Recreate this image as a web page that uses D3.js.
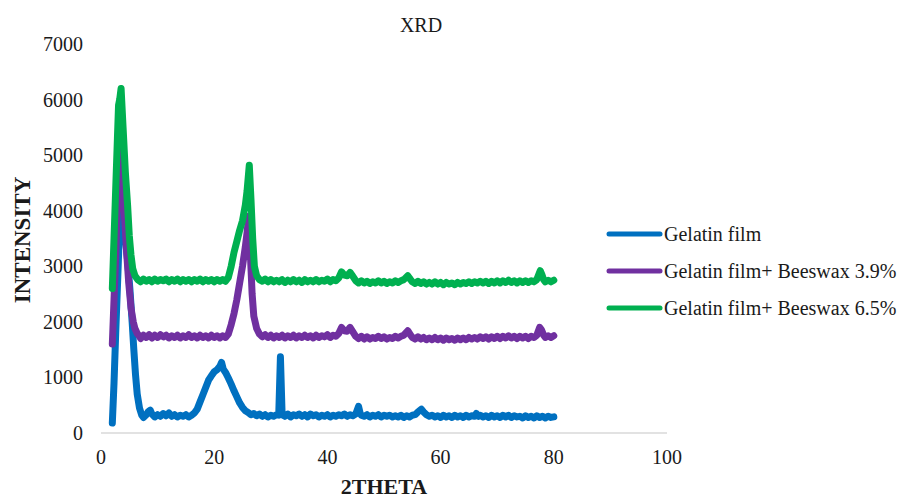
<!DOCTYPE html>
<html>
<head>
<meta charset="utf-8">
<script type="text/javascript" src="https://cdn.jsdelivr.net/npm/d3@7/dist/d3.min.js"></script>
<style>
  body { margin: 0; background: #ffffff; }
  svg { display: block; }
  text { font-family: "Liberation Serif", "Times New Roman", Times, serif; fill: #1a1a1a; }
</style>
</head>
<body>
<div id="chart"></div>
<script type="text/javascript">
// [2theta, intensity]
var gelatinFilm = [
  [2.0,180],[2.3,900],[2.6,1800],[3.0,2900],[3.3,3800],[3.6,4300],[3.9,4000],[4.3,3500],[4.7,3100],[5.1,2600],
  [5.5,2000],[5.8,1500],[6.1,1050],[6.4,700],[6.8,450],[7.2,320],[7.5,280],[8.0,330],[8.4,390],[8.7,410],
  [9.0,340],[9.5,290],[10.0,330],[10.5,300],[11.0,350],[11.5,310],[12.0,360],[12.5,300],[13.0,330],[13.5,290],
  [14.0,320],[14.5,300],[15.0,330],[15.5,290],[16.0,320],[16.5,360],[17.0,430],[17.5,560],[18.0,690],[18.5,820],
  [19.0,950],[19.5,1030],[20.0,1100],[20.5,1140],[21.0,1200],[21.3,1270],[21.6,1150],[22.0,1090],[22.5,990],[23.0,880],
  [23.5,760],[24.0,650],[24.5,540],[25.0,460],[25.5,400],[26.0,370],[26.5,330],[27.0,350],[27.5,310],[28.0,340],
  [28.5,300],[29.0,330],[29.5,290],[30.0,320],[30.5,300],[31.0,330],[31.4,320],[31.7,1370],[32.0,330],[32.5,300],
  [33.0,340],[33.5,290],[34.0,330],[34.5,310],[35.0,340],[35.5,300],[36.0,330],[36.5,290],[37.0,340],[37.5,310],
  [38.0,330],[38.5,290],[39.0,320],[39.5,300],[40.0,330],[40.5,290],[41.0,320],[41.5,300],[42.0,330],[42.5,310],
  [43.0,340],[43.5,300],[44.0,330],[44.5,310],[45.0,340],[45.5,480],[45.8,350],[46.0,320],[46.5,300],[47.0,330],
  [47.5,290],[48.0,320],[48.5,300],[49.0,330],[49.5,290],[50.0,320],[50.5,300],[51.0,320],[51.5,290],[52.0,310],
  [52.5,290],[53.0,320],[53.5,280],[54.0,310],[54.5,290],[55.0,320],[55.5,330],[56.0,380],[56.6,430],[57.0,380],
  [57.5,330],[58.0,300],[58.5,320],[59.0,290],[59.5,310],[60.0,280],[60.5,320],[61.0,290],[61.5,310],[62.0,280],
  [62.5,320],[63.0,290],[63.5,310],[64.0,280],[64.5,320],[65.0,290],[65.5,310],[66.0,300],[66.3,350],[66.7,300],
  [67.0,320],[67.5,290],[68.0,310],[68.5,280],[69.0,320],[69.5,290],[70.0,310],[70.5,280],[71.0,320],[71.5,290],
  [72.0,320],[72.5,280],[73.0,310],[73.5,290],[74.0,300],[74.5,270],[75.0,310],[75.5,280],[76.0,300],[76.5,270],
  [77.0,310],[77.5,280],[78.0,300],[78.5,270],[79.0,300],[79.5,280],[80.0,290]
];

var beeswax39 = [
  [2.0,1600],[2.3,2400],[2.6,3200],[2.9,4100],[3.2,4800],[3.5,5300],[3.8,4700],[4.1,4000],[4.5,3300],[4.9,2700],
  [5.3,2250],[5.7,2000],[6.0,1880],[6.4,1790],[6.8,1740],[7.0,1700],[7.5,1760],[8.0,1720],[8.5,1770],[9.0,1710],
  [9.5,1760],[10.0,1720],[10.5,1770],[11.0,1730],[11.5,1760],[12.0,1710],[12.5,1750],[13.0,1720],[13.5,1760],[14.0,1710],
  [14.5,1750],[15.0,1720],[15.5,1770],[16.0,1720],[16.5,1750],[17.0,1710],[17.5,1760],[18.0,1720],[18.5,1750],[19.0,1710],
  [19.5,1760],[20.0,1720],[20.5,1750],[21.0,1710],[21.5,1750],[22.0,1720],[22.5,1780],[23.0,1950],[23.5,2150],[24.0,2400],
  [24.5,2700],[25.0,3000],[25.5,3350],[25.8,3600],[26.1,3900],[26.4,3200],[26.7,2500],[27.0,2100],[27.5,1880],[28.0,1780],
  [28.5,1730],[29.0,1770],[29.5,1720],[30.0,1760],[30.5,1710],[31.0,1750],[31.5,1720],[32.0,1760],[32.5,1710],[33.0,1750],
  [33.5,1720],[34.0,1760],[34.5,1710],[35.0,1750],[35.5,1720],[36.0,1760],[36.5,1720],[37.0,1750],[37.5,1710],[38.0,1760],
  [38.5,1720],[39.0,1750],[39.5,1730],[40.0,1770],[40.5,1720],[41.0,1760],[41.5,1740],[42.0,1790],[42.5,1900],[43.0,1840],
  [43.5,1830],[44.0,1900],[44.5,1820],[45.0,1740],[45.5,1700],[46.0,1740],[46.5,1690],[47.0,1730],[47.5,1690],[48.0,1720],
  [48.5,1700],[49.0,1740],[49.5,1700],[50.0,1730],[50.5,1690],[51.0,1720],[51.5,1700],[52.0,1740],[52.5,1710],[53.0,1740],
  [53.5,1760],[54.2,1840],[54.7,1760],[55.0,1720],[55.5,1690],[56.0,1730],[56.5,1690],[57.0,1720],[57.5,1680],[58.0,1710],
  [58.5,1680],[59.0,1720],[59.5,1680],[60.0,1710],[60.5,1670],[61.0,1710],[61.5,1680],[62.0,1700],[62.5,1670],[63.0,1710],
  [63.5,1680],[64.0,1710],[64.5,1680],[65.0,1720],[65.5,1690],[66.0,1720],[66.5,1690],[67.0,1730],[67.5,1700],[68.0,1730],
  [68.5,1690],[69.0,1730],[69.5,1700],[70.0,1740],[70.5,1700],[71.0,1740],[71.5,1710],[72.0,1750],[72.5,1710],[73.0,1740],
  [73.5,1700],[74.0,1740],[74.5,1710],[75.0,1740],[75.5,1700],[76.0,1740],[76.5,1720],[77.0,1760],[77.5,1900],[77.8,1860],
  [78.2,1760],[78.5,1720],[79.0,1750],[79.5,1720],[80.0,1750]
];

var beeswax65 = [
  [2.0,2600],[2.3,3500],[2.6,4400],[2.9,5300],[3.1,5900],[3.3,6000],[3.55,6200],[3.9,5500],[4.3,4700],[4.7,4100],
  [5.0,3550],[5.3,3200],[5.6,2960],[6.0,2830],[6.5,2760],[7.0,2720],[7.5,2770],[8.0,2730],[8.5,2760],[9.0,2720],
  [9.5,2770],[10.0,2730],[10.5,2760],[11.0,2740],[11.5,2770],[12.0,2720],[12.5,2760],[13.0,2730],[13.5,2770],[14.0,2720],
  [14.5,2760],[15.0,2730],[15.5,2760],[16.0,2720],[16.5,2760],[17.0,2730],[17.5,2770],[18.0,2720],[18.5,2760],[19.0,2730],
  [19.5,2760],[20.0,2720],[20.5,2760],[21.0,2730],[21.5,2760],[22.0,2730],[22.5,2800],[23.0,3000],[23.5,3250],[24.0,3450],
  [24.5,3650],[25.0,3820],[25.5,4100],[25.8,4350],[26.2,4820],[26.5,4200],[26.8,3500],[27.1,3000],[27.5,2830],[28.0,2760],
  [28.5,2730],[29.0,2770],[29.5,2720],[30.0,2760],[30.5,2720],[31.0,2750],[31.5,2720],[32.0,2760],[32.5,2710],[33.0,2750],
  [33.5,2720],[34.0,2760],[34.5,2720],[35.0,2750],[35.5,2710],[36.0,2760],[36.5,2720],[37.0,2750],[37.5,2720],[38.0,2760],
  [38.5,2720],[39.0,2750],[39.5,2730],[40.0,2770],[40.5,2720],[41.0,2760],[41.5,2740],[42.0,2790],[42.5,2900],[43.0,2840],
  [43.5,2830],[44.0,2890],[44.5,2820],[45.0,2740],[45.5,2700],[46.0,2740],[46.5,2700],[47.0,2730],[47.5,2690],[48.0,2720],
  [48.5,2700],[49.0,2740],[49.5,2700],[50.0,2730],[50.5,2690],[51.0,2720],[51.5,2700],[52.0,2740],[52.5,2710],[53.0,2740],
  [53.5,2760],[54.2,2830],[54.7,2760],[55.0,2720],[55.5,2690],[56.0,2730],[56.5,2690],[57.0,2720],[57.5,2680],[58.0,2710],
  [58.5,2680],[59.0,2720],[59.5,2680],[60.0,2710],[60.5,2670],[61.0,2710],[61.5,2680],[62.0,2700],[62.5,2670],[63.0,2710],
  [63.5,2680],[64.0,2710],[64.5,2690],[65.0,2720],[65.5,2690],[66.0,2720],[66.5,2700],[67.0,2730],[67.5,2700],[68.0,2730],
  [68.5,2690],[69.0,2730],[69.5,2700],[70.0,2740],[70.5,2700],[71.0,2740],[71.5,2710],[72.0,2750],[72.5,2710],[73.0,2740],
  [73.5,2700],[74.0,2740],[74.5,2710],[75.0,2740],[75.5,2710],[76.0,2740],[76.5,2720],[77.0,2760],[77.6,2920],[77.9,2850],
  [78.2,2760],[78.5,2720],[79.0,2750],[79.5,2720],[80.0,2750]
];

var seriesNames = ["Gelatin film", "Gelatin film+ Beeswax 3.9%", "Gelatin film+ Beeswax 6.5%"];
var seriesColors = ["#0070c0", "#7030a0", "#00b050"];
var xTicks = [0, 20, 40, 60, 80, 100];
var yTicks = [0, 1000, 2000, 3000, 4000, 5000, 6000, 7000];

function drawChart() {
  var width = 904, height = 500;
  var svg = d3.select("#chart").append("svg")
    .attr("width", width)
    .attr("height", height);

  var x = d3.scaleLinear().domain([0, 100]).range([101, 667]);
  var y = d3.scaleLinear().domain([0, 7000]).range([433, 44]);

  // axis line at zero
  svg.append("line")
    .attr("x1", x(0)).attr("x2", x(100))
    .attr("y1", y(0)).attr("y2", y(0))
    .attr("stroke", "#d9d9d9")
    .attr("stroke-width", 1.5);

  // tick labels
  svg.append("g").selectAll("text")
    .data(yTicks).enter().append("text")
    .attr("x", 83)
    .attr("y", function(d) { return y(d); })
    .attr("dy", "0.35em")
    .attr("text-anchor", "end")
    .style("font-size", "20px")
    .text(function(d) { return d; });

  svg.append("g").selectAll("text")
    .data(xTicks).enter().append("text")
    .attr("x", function(d) { return x(d); })
    .attr("y", 464)
    .attr("text-anchor", "middle")
    .style("font-size", "20px")
    .text(function(d) { return d; });

  // series
  var line = d3.line()
    .x(function(d) { return x(d[0]); })
    .y(function(d) { return y(d[1]); });

  var allSeries = [gelatinFilm, beeswax39, beeswax65];
  allSeries.forEach(function(s, i) {
    svg.append("path")
      .datum(s)
      .attr("d", line)
      .attr("fill", "none")
      .attr("stroke", seriesColors[i])
      .attr("stroke-width", 7)
      .attr("stroke-linejoin", "round")
      .attr("stroke-linecap", "round");
  });

  // titles
  svg.append("text")
    .attr("x", 421).attr("y", 32)
    .attr("text-anchor", "middle")
    .style("font-size", "20px")
    .text("XRD");

  svg.append("text")
    .attr("x", 384).attr("y", 494)
    .attr("text-anchor", "middle")
    .style("font-size", "22px")
    .style("font-weight", "bold")
    .text("2THETA");

  svg.append("text")
    .attr("transform", "translate(30,240) rotate(-90)")
    .attr("text-anchor", "middle")
    .style("font-size", "23px")
    .style("font-weight", "bold")
    .text("INTENSITY");

  // legend
  var legendY = [234, 271, 308];
  seriesNames.forEach(function(name, i) {
    svg.append("line")
      .attr("x1", 609).attr("x2", 660)
      .attr("y1", legendY[i]).attr("y2", legendY[i])
      .attr("stroke", seriesColors[i])
      .attr("stroke-width", 5)
      .attr("stroke-linecap", "round");
    svg.append("text")
      .attr("x", 664).attr("y", legendY[i] + 7)
      .style("font-size", "20px")
      .text(name);
  });
}

drawChart();
</script>
</body>
</html>
